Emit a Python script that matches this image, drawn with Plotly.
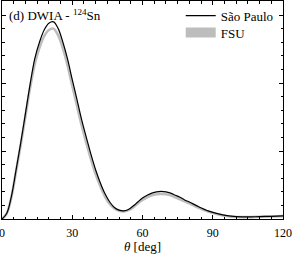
import plotly.graph_objects as go

# São Paulo (black line)
theta_sp = [0, 2, 4, 6, 8, 10, 12, 14, 16, 18, 20, 22, 24, 26, 28, 30, 32, 34, 36, 38,
            40, 42, 44, 46, 48, 50, 52, 54, 56, 58, 60, 62, 64, 66, 68, 70, 72, 74, 76,
            78, 80, 84, 88, 92, 96, 100, 105, 110, 115, 120]
val_sp = [0.0, 0.08, 0.33, 0.72, 1.12, 1.55, 1.98, 2.36, 2.60, 2.78, 2.88, 2.90, 2.80,
          2.60, 2.35, 2.05, 1.76, 1.46, 1.20, 0.95, 0.72, 0.53, 0.37, 0.25, 0.17, 0.13,
          0.12, 0.14, 0.19, 0.25, 0.31, 0.35, 0.38, 0.40, 0.405, 0.40, 0.38, 0.35, 0.32,
          0.28, 0.25, 0.18, 0.12, 0.08, 0.05, 0.035, 0.03, 0.035, 0.04, 0.045]

# FSU (gray band)
theta_fsu = theta_sp
val_fsu = [0.0, 0.08, 0.32, 0.70, 1.09, 1.51, 1.93, 2.28, 2.52, 2.69, 2.78, 2.80, 2.70,
           2.51, 2.26, 1.96, 1.67, 1.38, 1.12, 0.88, 0.66, 0.48, 0.33, 0.22, 0.155, 0.12,
           0.11, 0.13, 0.17, 0.23, 0.28, 0.32, 0.35, 0.365, 0.37, 0.365, 0.35, 0.32, 0.29,
           0.26, 0.23, 0.165, 0.11, 0.07, 0.045, 0.03, 0.028, 0.032, 0.037, 0.042]

x_ticks = [0, 30, 60, 90, 120]
x_ticklabels = ["0", "30", "60", "90", "120"]

FONT = "Liberation Serif, serif"
GRAY = "#bdbdbd"

fig = go.Figure()
fig.add_trace(go.Scatter(x=theta_fsu, y=val_fsu, mode="lines", line=dict(color=GRAY, width=2.6, shape="spline"),
                         showlegend=False, hoverinfo="skip"))
fig.add_trace(go.Scatter(x=theta_sp, y=val_sp, mode="lines", line=dict(color="black", width=1.2, shape="spline"),
                         name="São Paulo", legend="legend", hoverinfo="skip"))
fig.add_trace(go.Scatter(x=[None], y=[None], mode="lines", line=dict(color=GRAY, width=10),
                         name="FSU", legend="legend2", hoverinfo="skip"))

axis_common = dict(showline=True, linecolor="black", linewidth=1, mirror="allticks",
                   ticks="inside", ticklen=4, tickcolor="black", tickwidth=1,
                   showgrid=False, zeroline=False, automargin=False)

fig.update_xaxes(range=[0, 120], tickvals=x_ticks, ticktext=x_ticklabels,
                 ticklabeloverflow="allow", ticklabelstandoff=3,
                 minor=dict(dtick=5, ticks="inside", ticklen=2.5, tickcolor="black", showgrid=False),
                 title=dict(text="<i>θ</i> [deg]", font=dict(family=FONT, size=13, color="black"), standoff=4),
                 tickfont=dict(family=FONT, size=12, color="black"), **axis_common)
fig.update_yaxes(range=[0, 3.206], dtick=1, tick0=0, showticklabels=False,
                 minor=dict(dtick=0.2, ticks="inside", ticklen=2.5, tickcolor="black", showgrid=False),
                 **axis_common)

fig.add_annotation(text="(d) DWIA - <sup>124</sup>Sn", xref="paper", yref="paper",
                   x=0.018, y=0.936, xanchor="left", yanchor="middle", showarrow=False,
                   font=dict(family=FONT, size=13, color="black"))

leg_common = dict(xanchor="left", yanchor="middle", bgcolor="rgba(0,0,0,0)",
                  itemwidth=30, font=dict(family=FONT, size=13, color="black"))
fig.update_layout(width=294, height=254, margin=dict(l=2, r=11, t=1, b=35),
                  paper_bgcolor="white", plot_bgcolor="white",
                  font=dict(family=FONT, size=13, color="black"),
                  legend=dict(x=0.636, y=0.933, **leg_common),
                  legend2=dict(x=0.636, y=0.855, **leg_common))

fig.write_html("out.html", config={"displayModeBar": False},
               post_script="document.body.style.margin='0';document.body.style.padding='0';")
